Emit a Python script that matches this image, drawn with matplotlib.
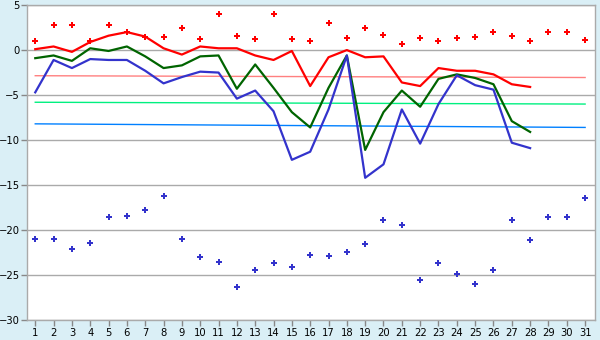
import matplotlib.pyplot as plt
import numpy as np

days = np.arange(1, 32)
line_days = np.arange(1, 29)

top_dots = [1.0, 2.8, 2.8, 1.0, 2.8, 2.0, 1.4, 1.4, 2.5, 1.2,
            4.0, 1.6, 1.2, 4.0, 1.2, 1.0, 3.0, 1.3, 2.5, 1.7,
            0.7, 1.3, 1.0, 1.3, 1.4, 2.0, 1.6, 1.0, 2.0, 2.0, 1.1]
bottom_dots = [-21.0, -21.0, -22.1, -21.5, -18.6, -18.4, -17.8, -16.2, -21.0, -23.0,
               -23.6, -26.3, -24.4, -23.7, -24.1, -22.8, -22.9, -22.4, -21.6, -18.9,
               -19.5, -25.6, -23.7, -24.9, -26.0, -24.5, -18.9, -21.1, -18.6, -18.6, -16.4]

red_line = [0.1, 0.4, -0.2, 0.9, 1.6, 2.0, 1.5, 0.2, -0.5, 0.4,
            0.2, 0.2, -0.6, -1.1, -0.1, -4.0, -0.8, 0.0, -0.8, -0.7,
            -3.6, -4.0, -2.0, -2.3, -2.3, -2.7, -3.8, -4.1]
green_line = [-0.9, -0.6, -1.2, 0.2, -0.1, 0.4, -0.7, -2.0, -1.7, -0.7,
              -0.6, -4.3, -1.6, -4.2, -6.9, -8.6, -4.2, -0.6, -11.1, -6.9,
              -4.5, -6.3, -3.2, -2.7, -3.1, -3.8, -7.9, -9.1]
blue_line = [-4.7, -1.1, -2.0, -1.0, -1.1, -1.1, -2.3, -3.7, -3.0, -2.4,
             -2.5, -5.4, -4.5, -6.8, -12.2, -11.3, -6.6, -0.6, -14.2, -12.7,
             -6.6, -10.4, -6.0, -2.8, -3.9, -4.4, -10.3, -10.9]

# reference levels (start, end)
ref_pink = [-2.85, -3.05]
ref_green = [-5.8, -6.0]
ref_blue = [-8.2, -8.6]

fig = plt.figure(figsize=(6, 3.4), dpi=100)
fig.patch.set_facecolor('#DAEFF6')
ax = fig.add_axes([0.045, 0.059, 0.947, 0.926])
ax.set_facecolor('white')

for y in range(-30, 6, 5):
    ax.axhline(y, color='#AAAAAA', lw=1, zorder=1)

ends = [days[0], days[-1]]
ax.plot(ends, ref_pink, color='#FF8080', lw=1, zorder=2)
ax.plot(ends, ref_green, color='#00F080', lw=1, zorder=2)
ax.plot(ends, ref_blue, color='#0080FF', lw=1, zorder=2)

ax.plot(line_days, red_line, color='#FF0000', lw=1.6, zorder=3)
ax.plot(line_days, green_line, color='#006400', lw=1.6, zorder=3)
ax.plot(line_days, blue_line, color='#3333CC', lw=1.6, zorder=3)

ax.plot(days, top_dots, 'P', color='#FF0000', ms=4.2, mew=0, ls='none', zorder=4)
ax.plot(days, bottom_dots, 'P', color='#3333CC', ms=4.2, mew=0, ls='none', zorder=4)

ax.set_xlim(0.55, 31.55)
ax.set_ylim(-30, 5)
ax.set_xticks(days)
ax.set_yticks(range(-30, 6, 5))
ax.tick_params(axis='both', colors='#888888', labelcolor='black', labelsize=7.2,
               length=4, width=1)
ax.tick_params(axis='x', pad=2)
ax.tick_params(axis='y', pad=1)
for s in ax.spines.values():
    s.set_color('#AAAAAA')
    s.set_linewidth(1)

fig.savefig('out.png', dpi=100, facecolor=fig.get_facecolor())
